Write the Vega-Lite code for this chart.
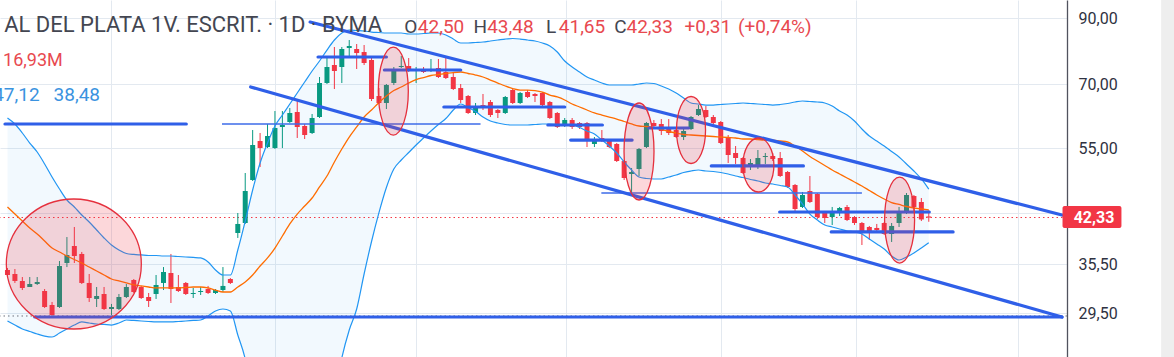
{
"$schema":"https://vega.github.io/schema/vega-lite/v6.json",
"width":1067,"height":357,
"autosize":{"type":"none"},
"padding":{"left":0,"top":0,"right":107,"bottom":0},
"background":"#ffffff",
"config":{"view":{"stroke":null},"font":"Roboto"},
"datasets":{
"candles":[
{"i":0,"o":34.71,"h":34.97,"l":33.80,"c":34.06,"up":61.67,"mid":44.05,"lo":28.62},
{"i":1,"o":34.19,"h":34.84,"l":33.05,"c":33.30,"up":60.29,"mid":42.89,"lo":28.19},
{"i":2,"o":33.30,"h":33.80,"l":32.18,"c":32.43,"up":58.27,"mid":41.77,"lo":27.77},
{"i":3,"o":32.55,"h":33.80,"l":32.55,"c":32.92,"up":56.10,"mid":40.69,"lo":27.51},
{"i":4,"o":32.92,"h":33.80,"l":32.80,"c":33.17,"up":54.23,"mid":39.77,"lo":27.25},
{"i":5,"o":32.06,"h":32.30,"l":30.07,"c":30.18,"up":51.83,"mid":38.73,"lo":27.04},
{"i":6,"o":30.41,"h":30.76,"l":29.17,"c":29.28,"up":49.34,"mid":37.72,"lo":26.94},
{"i":7,"o":30.18,"h":35.91,"l":30.07,"c":35.24,"up":47.15,"mid":37.16,"lo":27.35},
{"i":8,"o":35.64,"h":39.32,"l":35.10,"c":36.74,"up":45.23,"mid":36.60,"lo":27.77},
{"i":9,"o":38.01,"h":40.84,"l":35.64,"c":36.60,"up":44.05,"mid":36.12,"lo":28.19},
{"i":10,"o":36.88,"h":37.16,"l":32.92,"c":33.05,"up":42.73,"mid":35.64,"lo":28.52},
{"i":11,"o":33.05,"h":34.19,"l":30.76,"c":31.22,"up":41.62,"mid":35.10,"lo":28.41},
{"i":12,"o":31.11,"h":32.55,"l":30.18,"c":31.46,"up":40.38,"mid":34.58,"lo":28.30},
{"i":13,"o":31.70,"h":32.55,"l":29.84,"c":29.95,"up":39.18,"mid":34.06,"lo":28.25},
{"i":14,"o":29.95,"h":30.53,"l":29.28,"c":30.18,"up":38.15,"mid":33.55,"lo":28.19},
{"i":15,"o":29.95,"h":31.70,"l":29.84,"c":31.34,"up":37.44,"mid":33.30,"lo":28.41},
{"i":16,"o":31.34,"h":32.92,"l":31.22,"c":32.55,"up":36.95,"mid":33.05,"lo":28.73},
{"i":17,"o":33.42,"h":33.55,"l":31.82,"c":31.94,"up":36.81,"mid":32.80,"lo":28.68},
{"i":18,"o":32.55,"h":32.68,"l":31.11,"c":31.22,"up":36.74,"mid":32.68,"lo":28.62},
{"i":19,"o":31.34,"h":31.82,"l":30.18,"c":30.87,"up":36.67,"mid":32.55,"lo":28.57},
{"i":20,"o":31.70,"h":34.06,"l":31.11,"c":32.80,"up":36.67,"mid":32.43,"lo":28.52},
{"i":21,"o":33.05,"h":35.10,"l":32.18,"c":34.45,"up":36.60,"mid":32.43,"lo":28.52},
{"i":22,"o":34.32,"h":36.88,"l":30.64,"c":32.30,"up":36.60,"mid":32.43,"lo":28.52},
{"i":23,"o":32.55,"h":34.06,"l":31.94,"c":32.06,"up":36.53,"mid":32.43,"lo":28.57},
{"i":24,"o":33.05,"h":33.17,"l":31.58,"c":31.70,"up":36.46,"mid":32.49,"lo":28.62},
{"i":25,"o":31.70,"h":32.43,"l":31.22,"c":31.82,"up":36.40,"mid":32.55,"lo":28.68},
{"i":26,"o":31.94,"h":32.55,"l":31.58,"c":32.06,"up":36.33,"mid":32.55,"lo":28.73},
{"i":27,"o":32.30,"h":32.68,"l":31.70,"c":31.82,"up":35.78,"mid":32.43,"lo":29.17},
{"i":28,"o":31.82,"h":32.30,"l":31.70,"c":32.18,"up":34.71,"mid":32.18,"lo":29.73},
{"i":29,"o":32.18,"h":35.10,"l":31.94,"c":32.68,"up":34.06,"mid":31.94,"lo":29.95},
{"i":30,"o":33.55,"h":33.67,"l":32.92,"c":33.05,"up":34.06,"mid":31.94,"lo":29.73},
{"i":31,"o":39.92,"h":43.06,"l":39.18,"c":41.31,"up":37.44,"mid":32.55,"lo":27.15},
{"i":32,"o":41.46,"h":50.09,"l":41.31,"c":46.79,"up":41.77,"mid":33.17,"lo":24.78},
{"i":33,"o":48.78,"h":58.93,"l":48.60,"c":55.68,"up":46.97,"mid":34.06,"lo":21.15},
{"i":34,"o":56.53,"h":58.27,"l":51.24,"c":55.05,"up":52.02,"mid":35.24,"lo":18.46},
{"i":35,"o":55.26,"h":60.29,"l":55.05,"c":57.61,"up":56.10,"mid":36.33,"lo":16.56},
{"i":36,"o":55.05,"h":63.32,"l":54.85,"c":59.38,"up":59.83,"mid":37.72,"lo":15.6},
{"i":37,"o":59.61,"h":63.32,"l":55.05,"c":60.06,"up":62.37,"mid":39.47,"lo":16.57},
{"i":38,"o":60.74,"h":64.04,"l":60.52,"c":62.85,"up":65.02,"mid":41.31,"lo":17.6},
{"i":39,"o":63.08,"h":66.01,"l":57.18,"c":59.61,"up":67.78,"mid":42.89,"lo":18.0},
{"i":40,"o":59.83,"h":60.29,"l":56.96,"c":57.83,"up":70.66,"mid":44.21,"lo":18.9},
{"i":41,"o":58.27,"h":62.61,"l":58.05,"c":61.67,"up":73.66,"mid":45.57,"lo":17.5},
{"i":42,"o":61.90,"h":72.01,"l":61.67,"c":70.39,"up":76.50,"mid":47.51,"lo":18.8},
{"i":43,"o":70.39,"h":77.67,"l":70.13,"c":74.79,"up":79.74,"mid":49.52,"lo":19.3},
{"i":44,"o":75.35,"h":80.66,"l":68.81,"c":73.66,"up":82.82,"mid":52.22,"lo":21.6},
{"i":45,"o":74.79,"h":80.66,"l":70.39,"c":80.05,"up":85.04,"mid":54.85,"lo":24.9},
{"i":46,"o":80.35,"h":82.82,"l":77.67,"c":80.96,"up":86.01,"mid":57.39,"lo":27.66},
{"i":47,"o":80.05,"h":81.58,"l":74.22,"c":78.84,"up":85.85,"mid":59.61,"lo":29.95},
{"i":48,"o":79.14,"h":81.27,"l":75.35,"c":75.93,"up":85.69,"mid":61.90,"lo":34.19},
{"i":49,"o":76.79,"h":77.67,"l":65.76,"c":66.26,"up":85.36,"mid":63.56,"lo":38.66},
{"i":50,"o":67.02,"h":69.07,"l":65.02,"c":65.27,"up":85.20,"mid":65.39,"lo":43.12},
{"i":51,"o":65.27,"h":70.13,"l":63.80,"c":69.86,"up":85.04,"mid":67.02,"lo":47.42},
{"i":52,"o":70.39,"h":74.79,"l":69.86,"c":73.94,"up":85.04,"mid":68.42,"lo":50.85},
{"i":53,"o":74.79,"h":77.96,"l":74.50,"c":75.07,"up":85.04,"mid":69.34,"lo":52.61},
{"i":54,"o":75.07,"h":77.37,"l":73.38,"c":73.94,"up":84.72,"mid":70.39,"lo":54.13},
{"i":55,"o":73.66,"h":74.79,"l":70.39,"c":74.22,"up":84.72,"mid":71.33,"lo":55.68},
{"i":56,"o":74.22,"h":74.79,"l":73.11,"c":73.38,"up":84.88,"mid":71.87,"lo":57.18},
{"i":57,"o":73.66,"h":77.08,"l":73.38,"c":74.22,"up":85.04,"mid":72.42,"lo":58.71},
{"i":58,"o":74.50,"h":77.08,"l":71.74,"c":72.01,"up":85.04,"mid":72.69,"lo":60.17},
{"i":59,"o":73.38,"h":77.96,"l":71.46,"c":71.74,"up":84.40,"mid":72.97,"lo":61.55},
{"i":60,"o":72.01,"h":73.11,"l":68.55,"c":68.81,"up":83.13,"mid":73.24,"lo":63.56},
{"i":61,"o":69.07,"h":70.13,"l":65.27,"c":66.01,"up":81.89,"mid":73.38,"lo":65.02},
{"i":62,"o":67.02,"h":67.27,"l":62.61,"c":62.85,"up":81.89,"mid":72.97,"lo":64.16},
{"i":63,"o":62.85,"h":65.27,"l":62.37,"c":64.29,"up":82.04,"mid":72.55,"lo":63.20},
{"i":64,"o":64.77,"h":67.53,"l":63.56,"c":64.04,"up":82.20,"mid":72.01,"lo":61.90},
{"i":65,"o":65.51,"h":66.01,"l":61.90,"c":62.37,"up":82.51,"mid":71.19,"lo":60.97},
{"i":66,"o":63.56,"h":63.80,"l":61.67,"c":62.85,"up":82.82,"mid":70.39,"lo":60.52},
{"i":67,"o":62.85,"h":67.02,"l":62.61,"c":66.77,"up":83.13,"mid":69.60,"lo":60.17},
{"i":68,"o":68.55,"h":69.07,"l":65.02,"c":65.27,"up":83.29,"mid":68.94,"lo":60.06},
{"i":69,"o":65.27,"h":68.04,"l":65.02,"c":67.78,"up":83.13,"mid":68.55,"lo":60.06},
{"i":70,"o":68.04,"h":68.55,"l":66.51,"c":66.77,"up":82.82,"mid":68.55,"lo":60.06},
{"i":71,"o":67.53,"h":67.78,"l":65.51,"c":67.02,"up":82.51,"mid":68.42,"lo":60.17},
{"i":72,"o":67.78,"h":68.04,"l":64.53,"c":64.77,"up":81.89,"mid":68.04,"lo":60.29},
{"i":73,"o":65.51,"h":65.76,"l":61.43,"c":61.67,"up":80.96,"mid":67.27,"lo":60.29},
{"i":74,"o":62.85,"h":63.08,"l":59.38,"c":59.61,"up":79.14,"mid":66.77,"lo":60.17},
{"i":75,"o":59.83,"h":61.67,"l":59.61,"c":61.20,"up":76.50,"mid":66.01,"lo":60.06},
{"i":76,"o":61.20,"h":61.67,"l":59.16,"c":59.61,"up":74.79,"mid":65.02,"lo":60.06},
{"i":77,"o":60.52,"h":60.74,"l":59.16,"c":59.61,"up":73.38,"mid":64.29,"lo":59.49},
{"i":78,"o":60.52,"h":60.74,"l":55.26,"c":56.53,"up":72.01,"mid":63.56,"lo":58.71},
{"i":79,"o":55.89,"h":57.39,"l":55.26,"c":56.96,"up":71.19,"mid":62.85,"lo":58.05},
{"i":80,"o":57.18,"h":58.93,"l":56.32,"c":56.53,"up":70.39,"mid":62.37,"lo":56.74},
{"i":81,"o":56.74,"h":56.96,"l":55.05,"c":55.26,"up":69.86,"mid":61.90,"lo":55.47},
{"i":82,"o":55.89,"h":56.10,"l":52.22,"c":52.41,"up":69.86,"mid":61.43,"lo":54.03},
{"i":83,"o":52.41,"h":52.61,"l":48.78,"c":49.15,"up":69.86,"mid":60.86,"lo":52.22},
{"i":84,"o":49.90,"h":51.05,"l":46.44,"c":50.28,"up":69.86,"mid":60.29,"lo":50.66},
{"i":85,"o":50.85,"h":55.05,"l":49.52,"c":54.85,"up":70.13,"mid":59.83,"lo":49.34},
{"i":86,"o":55.26,"h":60.74,"l":55.05,"c":60.52,"up":70.39,"mid":59.72,"lo":49.06},
{"i":87,"o":60.52,"h":61.20,"l":59.61,"c":59.83,"up":70.26,"mid":59.49,"lo":48.97},
{"i":88,"o":60.29,"h":61.43,"l":57.83,"c":58.71,"up":69.60,"mid":59.05,"lo":48.97},
{"i":89,"o":59.61,"h":61.43,"l":57.83,"c":58.27,"up":68.81,"mid":58.60,"lo":49.34},
{"i":90,"o":58.93,"h":59.38,"l":57.18,"c":57.39,"up":67.78,"mid":58.27,"lo":49.71},
{"i":91,"o":57.39,"h":59.61,"l":56.74,"c":58.71,"up":66.51,"mid":57.94,"lo":50.19},
{"i":92,"o":59.16,"h":62.14,"l":58.93,"c":61.90,"up":65.27,"mid":57.83,"lo":50.47},
{"i":93,"o":62.37,"h":64.77,"l":62.14,"c":63.80,"up":65.02,"mid":57.72,"lo":50.66},
{"i":94,"o":63.56,"h":64.53,"l":61.67,"c":61.90,"up":64.77,"mid":57.61,"lo":50.47},
{"i":95,"o":61.90,"h":62.37,"l":60.29,"c":60.52,"up":64.77,"mid":57.50,"lo":50.38},
{"i":96,"o":60.74,"h":60.97,"l":55.89,"c":56.10,"up":64.90,"mid":57.39,"lo":50.19},
{"i":97,"o":57.18,"h":57.83,"l":52.02,"c":53.62,"up":65.02,"mid":57.29,"lo":49.90},
{"i":98,"o":54.03,"h":55.47,"l":51.83,"c":53.01,"up":65.15,"mid":57.18,"lo":49.52},
{"i":99,"o":53.01,"h":53.22,"l":49.90,"c":50.09,"up":65.27,"mid":56.96,"lo":49.24},
{"i":100,"o":51.44,"h":52.81,"l":50.66,"c":52.02,"up":65.15,"mid":56.96,"lo":48.88},
{"i":101,"o":51.63,"h":54.64,"l":50.85,"c":53.01,"up":65.02,"mid":56.85,"lo":48.60},
{"i":102,"o":53.22,"h":54.03,"l":51.83,"c":53.42,"up":64.90,"mid":56.74,"lo":48.23},
{"i":103,"o":53.42,"h":54.03,"l":52.41,"c":52.81,"up":64.77,"mid":56.74,"lo":48.05},
{"i":104,"o":53.01,"h":54.23,"l":49.34,"c":49.52,"up":64.90,"mid":56.53,"lo":47.78},
{"i":105,"o":50.28,"h":50.47,"l":47.33,"c":47.51,"up":65.15,"mid":56.32,"lo":47.51},
{"i":106,"o":47.87,"h":48.05,"l":43.39,"c":43.72,"up":65.51,"mid":55.47,"lo":46.09},
{"i":107,"o":44.05,"h":46.62,"l":43.88,"c":46.09,"up":65.76,"mid":54.44,"lo":44.55},
{"i":108,"o":46.79,"h":49.52,"l":44.72,"c":44.89,"up":65.64,"mid":53.32,"lo":42.89},
{"i":109,"o":46.27,"h":46.44,"l":42.09,"c":42.41,"up":65.51,"mid":52.41,"lo":41.93},
{"i":110,"o":43.06,"h":43.39,"l":41.46,"c":42.25,"up":65.27,"mid":51.54,"lo":41.15},
{"i":111,"o":42.41,"h":44.05,"l":41.15,"c":43.22,"up":64.53,"mid":50.66,"lo":40.84},
{"i":112,"o":43.22,"h":44.05,"l":42.57,"c":43.88,"up":63.32,"mid":49.90,"lo":40.53},
{"i":113,"o":44.05,"h":44.38,"l":41.77,"c":41.93,"up":62.37,"mid":49.15,"lo":40.23},
{"i":114,"o":42.41,"h":42.57,"l":41.15,"c":41.46,"up":60.97,"mid":48.42,"lo":40.08},
{"i":115,"o":41.46,"h":41.62,"l":38.15,"c":39.92,"up":59.16,"mid":47.69,"lo":39.77},
{"i":116,"o":40.84,"h":41.00,"l":38.88,"c":40.08,"up":57.61,"mid":46.88,"lo":39.03},
{"i":117,"o":40.69,"h":41.31,"l":39.92,"c":40.38,"up":56.53,"mid":46.09,"lo":38.30},
{"i":118,"o":41.46,"h":41.62,"l":39.62,"c":39.77,"up":55.47,"mid":45.40,"lo":37.58},
{"i":119,"o":39.77,"h":41.46,"l":38.59,"c":41.00,"up":54.33,"mid":44.80,"lo":36.60},
{"i":120,"o":41.46,"h":44.05,"l":40.84,"c":43.22,"up":53.22,"mid":44.47,"lo":36.05},
{"i":121,"o":43.06,"h":46.44,"l":42.89,"c":46.09,"up":51.83,"mid":44.13,"lo":36.46},
{"i":122,"o":45.92,"h":46.09,"l":43.39,"c":44.05,"up":50.47,"mid":43.88,"lo":37.02},
{"i":123,"o":44.89,"h":45.57,"l":41.77,"c":42.02,"up":48.97,"mid":43.72,"lo":37.72},
{"i":124,"o":42.50,"h":43.48,"l":41.65,"c":42.33,"up":47.12,"mid":43.55,"lo":38.48}
],
"levels":[
{"x1":-0.333,"x2":24.07,"y":60.29},
{"x1":41.8,"x2":51.0,"y":77.67},
{"x1":50.73,"x2":61.0,"y":73.94},
{"x1":58.73,"x2":75.0,"y":64.29},
{"x1":72.73,"x2":80.07,"y":60.06},
{"x1":75.8,"x2":84.07,"y":56.74},
{"x1":86.33,"x2":91.67,"y":59.38},
{"x1":94.73,"x2":107.13,"y":51.44},
{"x1":103.93,"x2":124.07,"y":43.22},
{"x1":110.87,"x2":127.27,"y":40.08},
{"x1":3.67,"x2":141.93,"y":29.06}
],
"guides":[
{"x1":28.87,"x2":63.67,"y":60.29},
{"x1":79.93,"x2":115.0,"y":46.44}
],
"trends":[
{"x1":40.73,"y1":88.65,"x2":141.93,"y2":42.73},
{"x1":32.73,"y1":69.34,"x2":141.93,"y2":29.06}
],
"ellipses":[
{"id":"E1","x":8.93,"y":35.51},
{"id":"E2","x":51.93,"y":68.29},
{"id":"E3","x":85.0,"y":54.33},
{"id":"E4","x":92.0,"y":58.93},
{"id":"E5","x":101.07,"y":51.63},
{"id":"E6","x":120.07,"y":41.93}
],
"texts":[
{"grp":"title","t":"AL DEL PLATA 1V. ESCRIT. · 1D · BYMA","x":-0.45,"y":85.36},
{"grp":"lbl","t":"O","x":53.4,"y":85.04},
{"grp":"val","t":"42,50","x":55.23,"y":85.04},
{"grp":"lbl","t":"H","x":62.73,"y":85.04},
{"grp":"val","t":"43,48","x":64.56,"y":85.04},
{"grp":"lbl","t":"L","x":72.47,"y":85.04},
{"grp":"val","t":"41,65","x":74.2,"y":85.04},
{"grp":"lbl","t":"C","x":81.67,"y":85.04},
{"grp":"val","t":"42,33","x":83.31,"y":85.04},
{"grp":"val","t":"+0,31","x":91.13,"y":85.04},
{"grp":"val","t":"(+0,74%)","x":98.33,"y":85.04},
{"grp":"vol","t":"16,93M","x":-0.6,"y":75.07},
{"grp":"bb","t":"47,12","x":-1.93,"y":65.76},
{"grp":"bb","t":"38,48","x":6.2,"y":65.76}
],
"lastprice":[{"x1":142.0,"x2":149.93,"top":44.21,"bottom":40.69,"p":42.33,"tx":143.5,"t":"42,33"}],
"strip":[{"x1":155.27,"x2":157,"top":96.35,"bottom":24.98}]
},
"layer":[
{"data":{"name":"candles"},
 "mark":{"type":"area","color":"#2196F3","opacity":0.06,"clip":true,"interpolate":"monotone"},
 "encoding":{
  "x":{"field":"i","type":"quantitative","scale":{"domain":[-0.333,141.93],"nice":false,"zero":false},
       "axis":{"values":[13.93,36.07,55,75.13,96.07,114.2,136.07],"grid":true,"gridColor":"#e3e9f0","gridWidth":1,"labels":false,"ticks":false,"domain":false,"title":null}},
  "y":{"field":"up","type":"quantitative","scale":{"type":"log","domain":[24.98,96.35],"nice":false},
       "axis":{"orient":"right","values":[29.5,35.5,43,55,70,90],"labelExpr":"datum.value == 43 ? '' : replace(format(datum.value, '.2f'), '.', ',')","grid":true,"gridColor":"#e3e9f0","gridWidth":1,"ticks":false,"domain":true,"domainColor":"#50535e","domainWidth":1.3,"labelPadding":11,"labelFontSize":16,"labelFont":"Roboto","labelColor":"#2f3241","title":null}},
  "y2":{"field":"lo"}}},
{"data":{"values":[{}]},
 "mark":{"type":"rule","color":"#6b6f7a","strokeDash":[1.5,3],"strokeWidth":1,"clip":true},
 "encoding":{"y":{"datum":29.17,"type":"quantitative","scale":{"type":"log","domain":[24.98,96.35],"nice":false}}}},
{"data":{"values":[{}]},
 "mark":{"type":"rule","color":"#F23645","strokeDash":[1.5,3],"strokeWidth":1,"clip":true},
 "encoding":{"y":{"datum":42.33,"type":"quantitative","scale":{"type":"log","domain":[24.98,96.35],"nice":false}}}},
{"data":{"name":"candles"},
 "mark":{"type":"rule","strokeWidth":1,"clip":true},
 "encoding":{
  "x":{"field":"i","type":"quantitative","scale":{"domain":[-0.333,141.93],"nice":false,"zero":false}},
  "y":{"field":"l","type":"quantitative","scale":{"type":"log","domain":[24.98,96.35],"nice":false}},
  "y2":{"field":"h"},
  "color":{"condition":{"test":"datum.o > datum.c","value":"#F23645"},"value":"#089981"}}},
{"data":{"name":"candles"},
 "mark":{"type":"bar","width":5,"clip":true},
 "encoding":{
  "x":{"field":"i","type":"quantitative","scale":{"domain":[-0.333,141.93],"nice":false,"zero":false}},
  "y":{"field":"o","type":"quantitative","scale":{"type":"log","domain":[24.98,96.35],"nice":false}},
  "y2":{"field":"c"},
  "color":{"condition":{"test":"datum.o > datum.c","value":"#F23645"},"value":"#089981"}}},
{"data":{"name":"candles"},
 "mark":{"type":"line","color":"#2196F3","strokeWidth":1.2,"clip":true,"interpolate":"monotone"},
 "encoding":{
  "x":{"field":"i","type":"quantitative","scale":{"domain":[-0.333,141.93],"nice":false,"zero":false}},
  "y":{"field":"up","type":"quantitative","scale":{"type":"log","domain":[24.98,96.35],"nice":false}}}},
{"data":{"name":"candles"},
 "mark":{"type":"line","color":"#2196F3","strokeWidth":1.2,"clip":true,"interpolate":"monotone"},
 "encoding":{
  "x":{"field":"i","type":"quantitative","scale":{"domain":[-0.333,141.93],"nice":false,"zero":false}},
  "y":{"field":"lo","type":"quantitative","scale":{"type":"log","domain":[24.98,96.35],"nice":false}}}},
{"data":{"name":"candles"},
 "mark":{"type":"line","color":"#FF6D00","strokeWidth":1.3,"clip":true,"interpolate":"monotone"},
 "encoding":{
  "x":{"field":"i","type":"quantitative","scale":{"domain":[-0.333,141.93],"nice":false,"zero":false}},
  "y":{"field":"mid","type":"quantitative","scale":{"type":"log","domain":[24.98,96.35],"nice":false}}}},
{"data":{"name":"guides"},
 "mark":{"type":"rule","color":"#3d6be8","strokeWidth":1.3,"clip":true},
 "encoding":{
  "x":{"field":"x1","type":"quantitative","scale":{"domain":[-0.333,141.93],"nice":false,"zero":false}},
  "x2":{"field":"x2"},
  "y":{"field":"y","type":"quantitative","scale":{"type":"log","domain":[24.98,96.35],"nice":false}}}},
{"data":{"name":"levels"},
 "mark":{"type":"rule","color":"#2f5fe8","strokeWidth":3.2,"strokeCap":"round","clip":true},
 "encoding":{
  "x":{"field":"x1","type":"quantitative","scale":{"domain":[-0.333,141.93],"nice":false,"zero":false}},
  "x2":{"field":"x2"},
  "y":{"field":"y","type":"quantitative","scale":{"type":"log","domain":[24.98,96.35],"nice":false}}}},
{"data":{"name":"trends"},
 "mark":{"type":"rule","color":"#2f5fe8","strokeWidth":3.2,"strokeCap":"round","clip":true},
 "encoding":{
  "x":{"field":"x1","type":"quantitative","scale":{"domain":[-0.333,141.93],"nice":false,"zero":false}},
  "x2":{"field":"x2"},
  "y":{"field":"y1","type":"quantitative","scale":{"type":"log","domain":[24.98,96.35],"nice":false}},
  "y2":{"field":"y2"}}},
{"data":{"name":"ellipses"},
 "mark":{"type":"point","filled":true,"fill":"#F23645","fillOpacity":0.2,"stroke":"#E5303D","strokeWidth":1.3,"opacity":1,"clip":true},
 "encoding":{
  "x":{"field":"x","type":"quantitative","scale":{"domain":[-0.333,141.93],"nice":false,"zero":false}},
  "y":{"field":"y","type":"quantitative","scale":{"type":"log","domain":[24.98,96.35],"nice":false}},
  "shape":{"field":"id","type":"nominal","legend":null,"scale":{"type":"ordinal","domain":["E1","E2","E3","E4","E5","E6"],"range":[
   "M 1 0 C 1 0.532 0.552 0.963 0 0.963 C -0.552 0.963 -1 0.532 -1 0 C -1 -0.532 -0.552 -0.963 0 -0.963 C 0.552 -0.963 1 -0.532 1 0 Z",
   "M 0.341 0 C 0.341 0.552 0.188 1 0 1 C -0.188 1 -0.341 0.552 -0.341 0 C -0.341 -0.552 -0.188 -1 0 -1 C 0.188 -1 0.341 -0.552 0.341 0 Z",
   "M 0.309 0 C 0.309 0.552 0.171 1 0 1 C -0.171 1 -0.309 0.552 -0.309 0 C -0.309 -0.552 -0.171 -1 0 -1 C 0.171 -1 0.309 -0.552 0.309 0 Z",
   "M 0.433 0 C 0.433 0.552 0.239 1 0 1 C -0.239 1 -0.433 0.552 -0.433 0 C -0.433 -0.552 -0.239 -1 0 -1 C 0.239 -1 0.433 -0.552 0.433 0 Z",
   "M 0.574 0 C 0.574 0.552 0.317 1 0 1 C -0.317 1 -0.574 0.552 -0.574 0 C -0.574 -0.552 -0.317 -1 0 -1 C 0.317 -1 0.574 -0.552 0.574 0 Z",
   "M 0.349 0 C 0.349 0.552 0.193 1 0 1 C -0.193 1 -0.349 0.552 -0.349 0 C -0.349 -0.552 -0.193 -1 0 -1 C 0.193 -1 0.349 -0.552 0.349 0 Z"]}},
  "size":{"field":"id","type":"nominal","legend":null,"scale":{"type":"ordinal","domain":["E1","E2","E3","E4","E5","E6"],"range":[18225,7744,9409,4489,2916,7396]}}}},
{"data":{"name":"texts"},"transform":[{"filter":"datum.grp == 'title'"}],
 "mark":{"type":"text","align":"left","baseline":"alphabetic","fontSize":22,"font":"Roboto","color":"#434651"},
 "encoding":{
  "x":{"field":"x","type":"quantitative","scale":{"domain":[-0.333,141.93],"nice":false,"zero":false}},
  "y":{"field":"y","type":"quantitative","scale":{"type":"log","domain":[24.98,96.35],"nice":false}},
  "text":{"field":"t"}}},
{"data":{"name":"texts"},"transform":[{"filter":"datum.grp == 'lbl'"}],
 "mark":{"type":"text","align":"left","baseline":"alphabetic","fontSize":19,"font":"Roboto","color":"#434651"},
 "encoding":{
  "x":{"field":"x","type":"quantitative","scale":{"domain":[-0.333,141.93],"nice":false,"zero":false}},
  "y":{"field":"y","type":"quantitative","scale":{"type":"log","domain":[24.98,96.35],"nice":false}},
  "text":{"field":"t"}}},
{"data":{"name":"texts"},"transform":[{"filter":"datum.grp == 'val'"}],
 "mark":{"type":"text","align":"left","baseline":"alphabetic","fontSize":19,"font":"Roboto","color":"#e8494f"},
 "encoding":{
  "x":{"field":"x","type":"quantitative","scale":{"domain":[-0.333,141.93],"nice":false,"zero":false}},
  "y":{"field":"y","type":"quantitative","scale":{"type":"log","domain":[24.98,96.35],"nice":false}},
  "text":{"field":"t"}}},
{"data":{"name":"texts"},"transform":[{"filter":"datum.grp == 'vol'"}],
 "mark":{"type":"text","align":"left","baseline":"alphabetic","fontSize":18,"font":"Roboto","color":"#e8494f"},
 "encoding":{
  "x":{"field":"x","type":"quantitative","scale":{"domain":[-0.333,141.93],"nice":false,"zero":false}},
  "y":{"field":"y","type":"quantitative","scale":{"type":"log","domain":[24.98,96.35],"nice":false}},
  "text":{"field":"t"}}},
{"data":{"name":"texts"},"transform":[{"filter":"datum.grp == 'bb'"}],
 "mark":{"type":"text","align":"left","baseline":"alphabetic","fontSize":19,"font":"Roboto","color":"#3a93e0"},
 "encoding":{
  "x":{"field":"x","type":"quantitative","scale":{"domain":[-0.333,141.93],"nice":false,"zero":false}},
  "y":{"field":"y","type":"quantitative","scale":{"type":"log","domain":[24.98,96.35],"nice":false}},
  "text":{"field":"t"}}},
{"data":{"name":"strip"},
 "mark":{"type":"rect","color":"#eeeeee","clip":false},
 "encoding":{
  "x":{"field":"x1","type":"quantitative","scale":{"domain":[-0.333,141.93],"nice":false,"zero":false}},
  "x2":{"field":"x2"},
  "y":{"field":"top","type":"quantitative","scale":{"type":"log","domain":[24.98,96.35],"nice":false}},
  "y2":{"field":"bottom"}}},
{"data":{"name":"lastprice"},
 "mark":{"type":"rect","color":"#F23645","cornerRadius":2,"clip":false},
 "encoding":{
  "x":{"field":"x1","type":"quantitative","scale":{"domain":[-0.333,141.93],"nice":false,"zero":false}},
  "x2":{"field":"x2"},
  "y":{"field":"top","type":"quantitative","scale":{"type":"log","domain":[24.98,96.35],"nice":false}},
  "y2":{"field":"bottom"}}},
{"data":{"name":"lastprice"},
 "mark":{"type":"text","align":"left","baseline":"middle","fontSize":16,"fontWeight":"bold","font":"Roboto","color":"#ffffff","clip":false},
 "encoding":{
  "x":{"field":"tx","type":"quantitative","scale":{"domain":[-0.333,141.93],"nice":false,"zero":false}},
  "y":{"field":"p","type":"quantitative","scale":{"type":"log","domain":[24.98,96.35],"nice":false}},
  "text":{"field":"t"}}}
]
}
